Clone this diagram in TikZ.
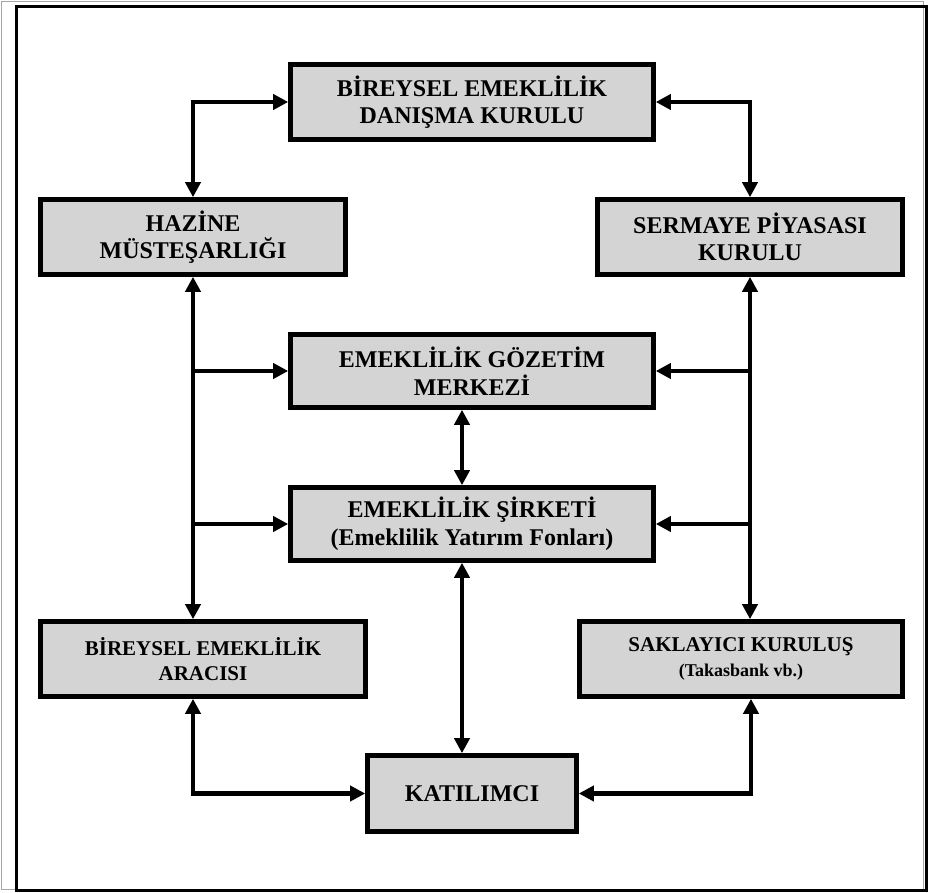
\documentclass[tikz,border=0pt]{standalone}
\usepackage{fontspec}
\setmainfont{Liberation Serif}
\usetikzlibrary{arrows.meta}
\begin{document}
\begin{tikzpicture}[x=1pt,y=-1pt,
  box/.style={draw=black, line width=4.6pt, fill=black!17, inner sep=0pt, align=center,
    font=\bfseries\fontsize{24}{27.5}\selectfont},
  smallbox/.style={box, font=\bfseries\fontsize{21}{24.3}\selectfont},
  tipA/.tip={Triangle[length=15pt,width=15pt]},
  conn/.style={line width=4.4pt, tipA-tipA},
  oneway/.style={line width=4.4pt, -tipA}]
\useasboundingbox (0,0) rectangle (930,893);
% page frame
\draw[gray!70, line width=1pt] (1.5,1.5) rectangle (923,889);
\draw[black, line width=3pt] (16.5,6.5) rectangle (926.5,890.5);
% boxes
\node[box, minimum width=363pt, minimum height=75pt] (dan) at (472,102) {BİREYSEL EMEKLİLİK\\DANIŞMA KURULU};
\node[box, minimum width=305pt, minimum height=75pt] (haz) at (193,237) {HAZİNE\\MÜSTEŞARLIĞI};
\node[box, minimum width=305pt, minimum height=75pt] (spk) at (750,237) {SERMAYE PİYASASI\\KURULU};
\node[box, minimum width=363pt, minimum height=73pt] (goz) at (472,371) {EMEKLİLİK GÖZETİM\\MERKEZİ};
\node[box, minimum width=363pt, minimum height=73pt] (sir) at (472,524) {EMEKLİLİK ŞİRKETİ\\(Emeklilik Yatırım Fonları)};
\node[smallbox, minimum width=325pt, minimum height=75pt] (ara) at (203,659) {BİREYSEL EMEKLİLİK\\ARACISI};
\node[smallbox, minimum width=323pt, minimum height=75pt] (sak) at (741,659) {SAKLAYICI KURULUŞ\\{\fontsize{18}{21}\selectfont (Takasbank vb.)}};
\node[box, minimum width=209pt, minimum height=76pt] (kat) at (472,793.5) {KATILIMCI};
% connectors
\draw[conn] (dan.west) -| (haz.north);
\draw[conn] (dan.east) -| (spk.north);
\draw[conn] (haz.south) -- (haz.south |- ara.north);
\draw[conn] (spk.south) -- (spk.south |- sak.north);
\draw[oneway] (haz.south |- goz.west) -- (goz.west);
\draw[oneway] (haz.south |- sir.west) -- (sir.west);
\draw[oneway] (spk.south |- goz.east) -- (goz.east);
\draw[oneway] (spk.south |- sir.east) -- (sir.east);
\draw[conn] ([xshift=-10pt]goz.south) -- ([xshift=-10pt]sir.north);
\draw[conn] ([xshift=-10pt]sir.south) -- ([xshift=-10pt]kat.north);
\draw[conn] ([xshift=-10pt]ara.south) |- (kat.west);
\draw[conn] ([xshift=10pt]sak.south) |- (kat.east);
\end{tikzpicture}
\end{document}
